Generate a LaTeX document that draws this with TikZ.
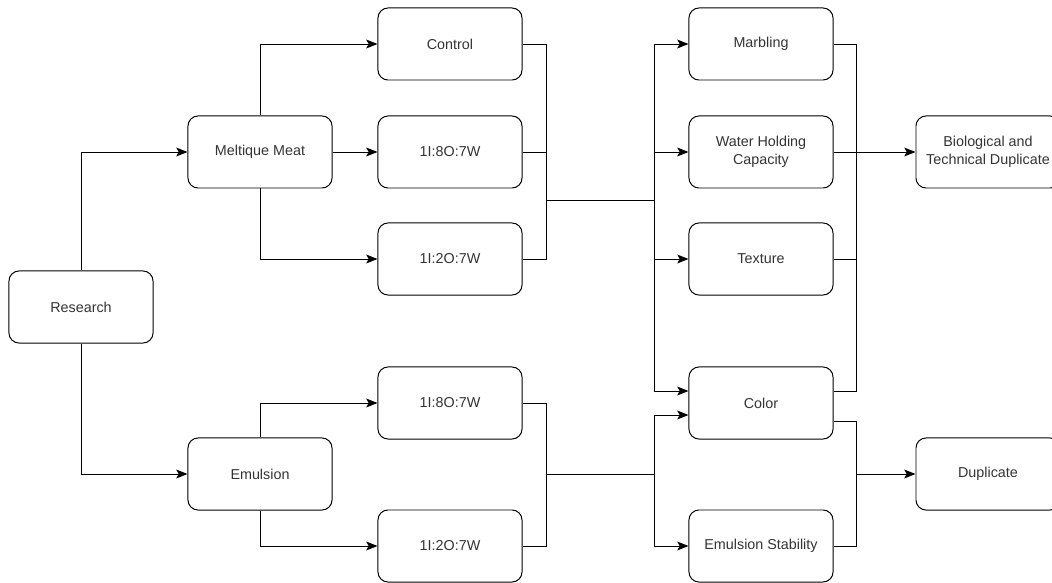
\documentclass[tikz,border=0pt]{standalone}
\usepackage{fontspec}
\setmainfont{Liberation Sans}
\usepackage{tikz}
\usetikzlibrary{shapes,arrows.meta,positioning}
\tikzstyle{rbox} = [rectangle, rounded corners=0.25cm, draw, line width=0.7pt, minimum width=3.6cm, minimum height=1.8cm, inner sep=0pt, align=center, text=black!80, font=\fontsize{10.2}{12.8}\selectfont]
\tikzstyle{line} = [draw, line width=0.7pt]
\tikzstyle{arrow} = [draw, line width=0.7pt, -{Stealth[length=0.28cm, width=0.22cm, inset=0.06cm]}]

\begin{document}
\begin{tikzpicture}[x=0.025cm, y=-0.025cm]
			\useasboundingbox (0,0) rectangle (1052,583);
			\node [rbox] (research) at (81, 307) {Research};
			\node [rbox] (meltique) at (260, 152) {Meltique Meat};
			\node [rbox] (emulsion) at (260, 474) {Emulsion};
			\node [rbox] (control) at (450, 44) {Control};
			\node [rbox] (m1) at (450, 152) {1I:8O:7W};
			\node [rbox] (m2) at (450, 259) {1I:2O:7W};
			\node [rbox] (e1) at (450, 403) {1I:8O:7W};
			\node [rbox] (e2) at (450, 546) {1I:2O:7W};
			\node [rbox] (marbling) at (761, 44) {Marbling};
			\node [rbox] (whc) at (761, 152) {Water Holding\\Capacity};
			\node [rbox] (texture) at (761, 259) {Texture};
			\node [rbox] (color) at (761, 403) {Color};
			\node [rbox] (stability) at (761, 546) {Emulsion Stability};
			\node [rbox] (btd) at (988, 152) {Biological and\\Technical Duplicate};
			\node [rbox] (dup) at (988, 474) {Duplicate};

			\coordinate (jl) at (546, 200);
			\coordinate (jr) at (654, 200);
			\coordinate (bl) at (546, 474);
			\coordinate (br) at (654, 474);
			\coordinate (rt) at (856, 152);
			\coordinate (rb) at (856, 474);

			\path [arrow] (research.north) |- (meltique.west);
			\path [arrow] (research.south) |- (emulsion.west);
			\path [arrow] (meltique.north) |- (control.west);
			\path [arrow] (meltique.east) -- (m1.west);
			\path [arrow] (meltique.south) |- (m2.west);
			\path [arrow] (emulsion.north) |- (e1.west);
			\path [arrow] (emulsion.south) |- (e2.west);

			\path [line] (control.east) -| (jl);
			\path [line] (m1.east) -| (jl);
			\path [line] (m2.east) -| (jl);
			\path [line] (jl) -- (jr);
			\path [arrow] (jr) |- (marbling.west);
			\path [arrow] (jr) |- (whc.west);
			\path [arrow] (jr) |- (texture.west);
			\path [arrow] (jr) |- ([yshift=0.3cm]color.west);

			\path [line] (e1.east) -| (bl);
			\path [line] (e2.east) -| (bl);
			\path [line] (bl) -- (br);
			\path [arrow] (br) |- ([yshift=-0.3cm]color.west);
			\path [arrow] (br) |- (stability.west);

			\path [line] (marbling.east) -| (rt);
			\path [line] (texture.east) -| (rt);
			\path [line] ([yshift=0.3cm]color.east) -| (rt);
			\path [arrow] (whc.east) -- (btd.west);

			\path [line] ([yshift=-0.45cm]color.east) -| (rb);
			\path [line] (stability.east) -| (rb);
			\path [arrow] (rb) -- (dup.west);
		\end{tikzpicture}
\end{document}
